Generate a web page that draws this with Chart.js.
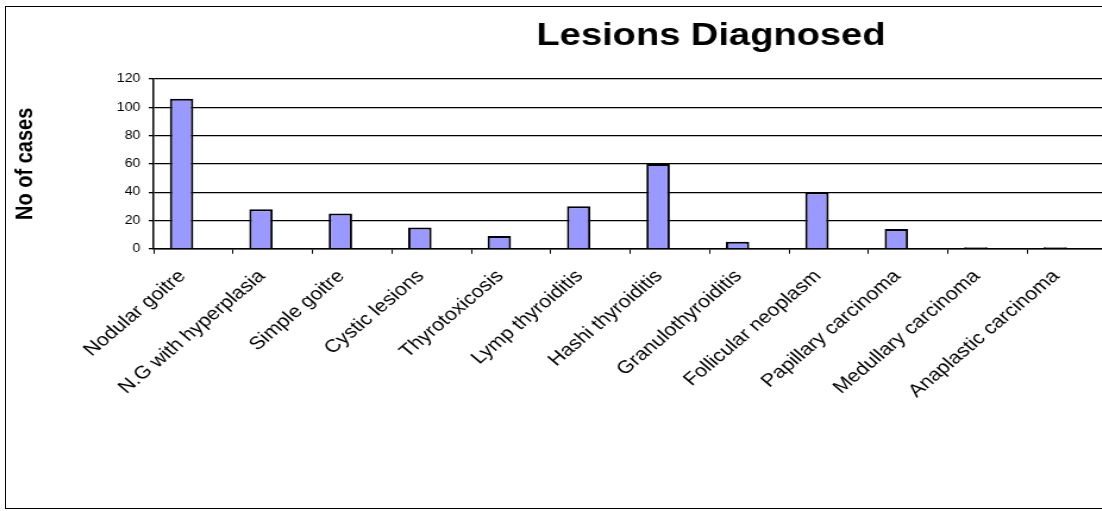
<!DOCTYPE html>
<html>
<head>
<meta charset="utf-8">
<script src="https://cdn.jsdelivr.net/npm/chart.js@4/dist/chart.umd.min.js"></script>
<style>
  html, body { margin: 0; padding: 0; background: #fff; overflow: hidden; }
  #frame {
    position: absolute; left: 5px; top: 6px;
    width: 1410px; height: 501px;
    border: 1px solid #000;
  }
  /* the original picture is stretched sideways, so the canvas is too */
  #chart { display: block; width: 1410px; height: 501px; }
</style>
</head>
<body>
<div id="frame">
  <canvas id="chart" width="1185" height="501" style="width:1410px;height:501px"></canvas>
</div>
<script>
const chartTitle = 'Lesions Diagnosed';
const axisTitle = 'No of cases';

const categories = [
    'Nodular goitre', 'N.G with hyperplasia', 'Simple goitre', 'Cystic lesions',
    'Thyrotoxicosis', 'Lymp thyroiditis', 'Hashi thyroiditis', 'Granulothyroiditis',
    'Follicular neoplasm', 'Papillary carcinoma', 'Medullary carcinoma', 'Anaplastic carcinoma'
];
const cases = [106, 28, 25, 15, 9, 30, 60, 5, 40, 14, 1, 1];
// second series in the source sheet is empty, it only takes its slot next to each bar
const emptySeries = [];
const yTicks = [0, 20, 40, 60, 80, 100, 120];

const FONT = "'Liberation Sans', Arial, sans-serif";

// title centred on the whole chart box, not on the plot
const centerTitle = {
    id: 'centerTitle',
    afterDraw(chart) {
        const ctx = chart.ctx;
        ctx.save();
        ctx.font = 'bold 32px ' + FONT;
        ctx.fillStyle = '#000';
        ctx.textAlign = 'center';
        ctx.textBaseline = 'middle';
        ctx.fillText(chartTitle, chart.width / 2, 29);
        ctx.restore();
    }
};

new Chart(document.getElementById('chart'), {
    type: 'bar',
    data: {
        labels: categories,
        datasets: [{
            label: 'Series1',
            data: cases,
            backgroundColor: '#9999ff',
            borderColor: '#000',
            borderWidth: 2,
            categoryPercentage: 0.59,
            barPercentage: 1
        }, {
            label: 'Series2',
            data: emptySeries,
            categoryPercentage: 0.59,
            barPercentage: 1
        }]
    },
    options: {
        responsive: false,
        animation: false,
        layout: { padding: { left: 4, right: 260, top: 72, bottom: 94 } },
        plugins: {
            legend: { display: false },
            tooltip: { enabled: false },
            title: { display: false }
        },
        scales: {
            x: {
                grid: { drawOnChartArea: false, color: '#000', tickLength: 5, offset: true },
                border: { color: '#000', width: 1.5 },
                ticks: {
                    color: '#000',
                    font: { family: FONT, size: 18 },
                    minRotation: 45,
                    maxRotation: 45,
                    autoSkip: false,
                    padding: 12,
                    labelOffset: -9
                }
            },
            y: {
                min: 0,
                max: 120,
                afterBuildTicks(scale) {
                    scale.ticks = yTicks.map(v => ({ value: v }));
                },
                grid: { color: '#000', lineWidth: 1.3, tickLength: 4 },
                border: { color: '#000', width: 1.5 },
                ticks: {
                    color: '#000',
                    font: { family: FONT, size: 12 },
                    padding: 7
                },
                title: {
                    display: true,
                    text: axisTitle,
                    color: '#000',
                    font: { family: FONT, size: 20, weight: 'bold' },
                    padding: { top: 0, bottom: 58 }
                }
            }
        }
    },
    plugins: [centerTitle]
});
</script>
</body>
</html>
